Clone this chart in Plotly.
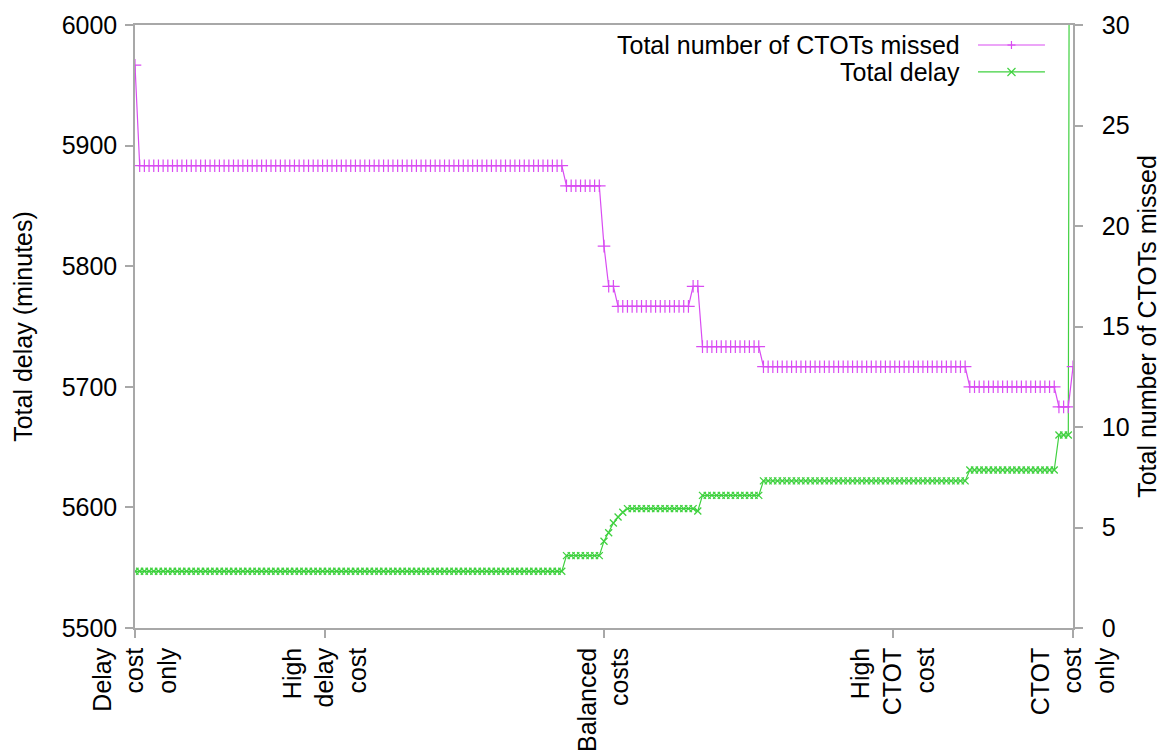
import plotly.graph_objects as go

# ---- data ----
# run-length pairs (value, number of consecutive points), 201 settings in total
ctot_runs = [(28, 1), (23, 91), (22, 8), (19, 1), (17, 2), (16, 16), (17, 2),
             (14, 13), (13, 44), (12, 19), (11, 3), (13, 1)]
delay_runs = [(5547, 92), (5560, 8), (5572, 1), (5579, 1), (5587, 1), (5592, 1),
              (5596, 1), (5599, 15), (5597, 1), (5610, 13), (5622, 44),
              (5631, 19), (5660, 3), (7800, 1)]
tick_positions = [0, 40.5, 100, 161.6, 200]
tick_labels = ["Delay<br>cost<br>only", "High<br>delay<br>cost", "Balanced<br>costs",
               "High<br>CTOT<br>cost", "CTOT<br>cost<br>only"]
left_ticks = [5500, 5600, 5700, 5800, 5900, 6000]
right_ticks = [0, 5, 10, 15, 20, 25, 30]


def expand(runs):
    out = []
    for v, n in runs:
        out.extend([v] * n)
    return out


ctot = expand(ctot_runs)
delay = expand(delay_runs)
xs = list(range(len(ctot)))

PINK = "#d94cf2"
GREEN = "#3fd13f"
AXIS = "#a8a8a8"
FONT = "Liberation Sans"
FS = 25

fig = go.Figure()
fig.add_trace(go.Scatter(
    x=xs, y=ctot, yaxis="y2", mode="lines+markers", name="Total number of CTOTs missed",
    line=dict(color=PINK, width=1.2),
    marker=dict(symbol="cross-thin", size=9, line=dict(color=PINK, width=1.2)),
    showlegend=False))
fig.add_trace(go.Scatter(
    x=xs, y=delay, mode="lines+markers", name="Total delay",
    line=dict(color=GREEN, width=1.2),
    marker=dict(symbol="x-thin", size=7, line=dict(color=GREEN, width=1.3)),
    showlegend=False))

fig.update_layout(
    width=1158, height=747,
    margin=dict(l=127, r=93, t=17, b=127),
    paper_bgcolor="white", plot_bgcolor="white",
    font=dict(family=FONT, size=FS, color="black"),
    xaxis=dict(range=[0, 200], tickvals=tick_positions, ticktext=tick_labels,
               tickangle=-90, showgrid=False, zeroline=False, automargin=False,
               showline=True, linecolor=AXIS, linewidth=1.5, mirror=True,
               ticks="outside", ticklen=8, tickcolor=AXIS, tickwidth=1.5),
    yaxis=dict(range=[5500, 6000], tickvals=left_ticks, showgrid=False, zeroline=False,
               automargin=False, ticklabelstandoff=3,
               showline=True, linecolor=AXIS, linewidth=1.5,
               ticks="outside", ticklen=8, tickcolor=AXIS, tickwidth=1.5,
               title=dict(text="Total delay (minutes)", font=dict(size=FS), standoff=22)),
    yaxis2=dict(range=[0, 30], tickvals=right_ticks, overlaying="y", side="right",
                showgrid=False, zeroline=False, automargin=False,
                showline=True, linecolor=AXIS, linewidth=1.5,
                ticks="outside", ticklen=8, tickcolor=AXIS, tickwidth=1.5,
                ticklabelstandoff=14,
                title=dict(text="Total number of CTOTs missed", font=dict(size=FS), standoff=10)),
)

# custom legend: text right-aligned, sample line + marker to the right
legend_items = [("Total number of CTOTs missed", PINK, "+", 0.9668),
                ("Total delay", GREEN, "x", 0.9221)]
for text, col, sym, yy in legend_items:
    fig.add_annotation(x=0.8817, y=yy, xref="paper", yref="paper", text=text,
                       showarrow=False, xanchor="right", yanchor="middle",
                       font=dict(family=FONT, size=FS, color="black"))
    fig.add_shape(type="line", xref="paper", yref="paper", x0=0.8987, x1=0.9701,
                  y0=yy, y1=yy, line=dict(color=col, width=1.2))
    if sym == "+":
        segs = [(-4, 0, 4, 0), (0, -4, 0, 4)]
    else:
        segs = [(-4, -4, 4, 4), (-4, 4, 4, -4)]
    for a, b, c, d in segs:
        fig.add_shape(type="line", xref="paper", yref="paper",
                      xsizemode="pixel", ysizemode="pixel",
                      xanchor=0.9344, yanchor=yy, x0=a, y0=b, x1=c, y1=d,
                      line=dict(color=col, width=1.2))

fig.write_html("out.html")
